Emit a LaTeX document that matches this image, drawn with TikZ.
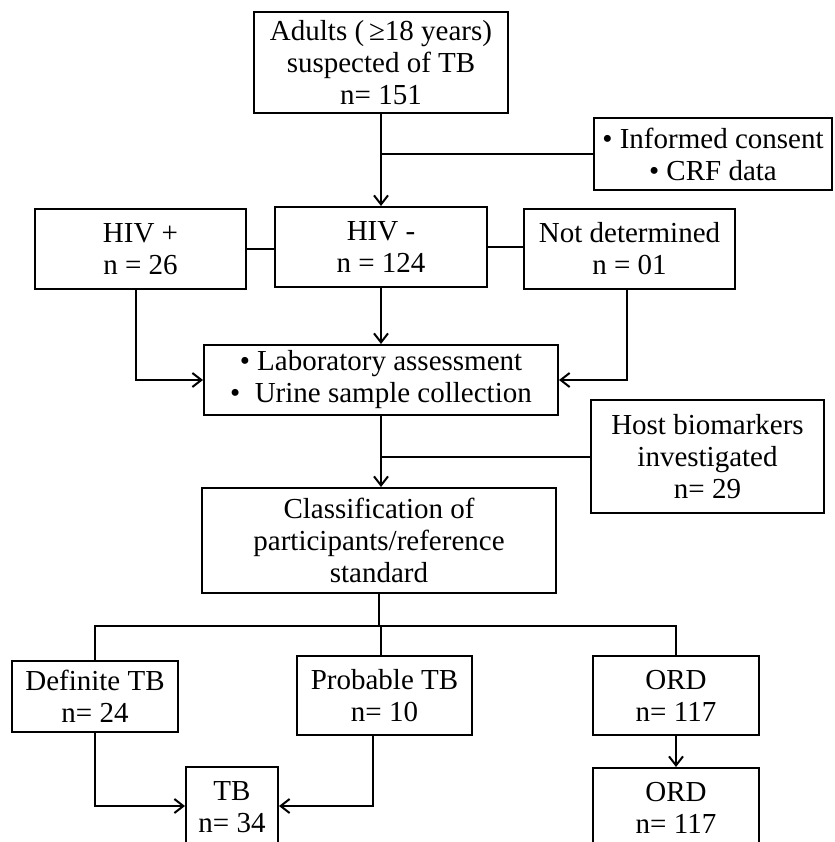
\documentclass[tikz,border=0pt]{standalone}
\usepackage{fontspec}
\setmainfont{Liberation Serif}
\usetikzlibrary{arrows.meta}
\begin{document}
\begin{tikzpicture}[x=1pt,y=-1pt,
  box/.style={draw, line width=2pt, align=center, inner sep=0pt, font=\fontsize{29}{32}\selectfont},
  conn/.style={line width=2pt},
  arr/.style={line width=2pt, -{Straight Barb[length=9pt,width=14pt,line width=2pt]}}]
\useasboundingbox[fill=white] (0,0) rectangle (834,842);
% nodes
\node[box, minimum width=254pt, minimum height=101pt] (adults) at (381,62.5) {Adults (\,≥18 years)\\suspected of TB\\n= 151};
\node[box, minimum width=238pt, minimum height=72pt] (consent) at (713,154) {• Informed consent\\• CRF data};
\node[box, minimum width=211pt, minimum height=80pt] (hivp) at (140.5,249) {HIV +\\n = 26};
\node[box, minimum width=212pt, minimum height=80pt] (hivm) at (381,247) {HIV -\\n = 124};
\node[box, minimum width=211pt, minimum height=80pt] (nd) at (629.5,249) {Not determined\\n = 01};
\node[box, minimum width=354pt, minimum height=70pt] (lab) at (381,380) {• Laboratory assessment\\•\ \ Urine sample collection};
\node[box, minimum width=233pt, minimum height=113pt] (host) at (707.5,456.5) {Host biomarkers\\investigated\\n= 29};
\node[box, minimum width=354pt, minimum height=105pt] (class) at (379,540.5) {Classification of\\participants/reference\\standard};
\node[box, minimum width=166pt, minimum height=71pt] (def) at (95,696.5) {Definite TB\\n= 24};
\node[box, minimum width=175pt, minimum height=79pt] (prob) at (384.5,695.5) {Probable TB\\n= 10};
\node[box, minimum width=166pt, minimum height=79pt] (ord) at (676,695.5) {ORD\\n= 117};
\node[box, minimum width=92pt, minimum height=80pt] (tb) at (232,807) {TB\\n= 34};
\node[box, minimum width=166pt, minimum height=80pt] (ord2) at (676,808) {ORD\\n= 117};
\coordinate (bar) at (381,626);
% connectors
\draw[arr] (adults.south) -- (hivm.north);
\draw[conn] (adults.south |- consent.west) -- (consent.west);
\draw[conn] (hivp.east) -- (hivp.east -| hivm.west);
\draw[conn] (hivm.east) -- (hivm.east -| nd.west);
\draw[arr] (hivm.south) -- (lab.north);
\draw[arr] ([xshift=-4.5pt]hivp.south) |- (lab.west);
\draw[arr] ([xshift=-2.5pt]nd.south) |- (lab.east);
\draw[arr] (lab.south) -- (lab.south |- class.north);
\draw[conn] (lab.south |- host.west) -- (host.west);
\draw[conn] (class.south) -- (class.south |- bar);
\draw[conn] (def.north) |- (ord.north |- bar) -- (ord.north);
\draw[conn] (prob.north -| bar) -- (bar);
\draw[arr] (def.south) |- ([yshift=1pt]tb.west);
\draw[arr] ([xshift=-11.5pt]prob.south) |- ([yshift=1pt]tb.east);
\draw[arr] (ord.south) -- (ord2.north);
\end{tikzpicture}
\end{document}
